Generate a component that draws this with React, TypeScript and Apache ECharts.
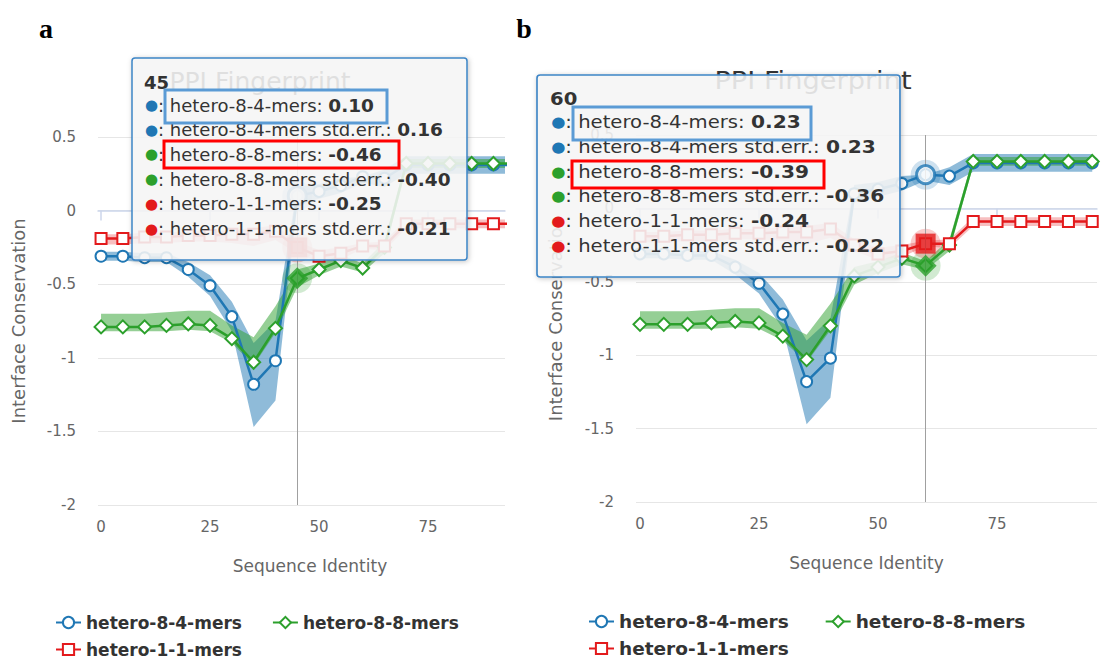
import React, { useEffect, useRef } from "react";
import * as echarts from "echarts";

// ---------- data ----------
const seqIdentity = [0, 5, 10, 15, 20, 25, 30, 35, 40, 45, 50, 55, 60, 65, 70, 75, 80, 85, 90, 95];
const seriesNames = ["hetero-8-4-mers", "hetero-8-8-mers", "hetero-1-1-mers"];

const mer84 = [-0.31, -0.31, -0.32, -0.32, -0.4, -0.51, -0.72, -1.18, -1.02, 0.1, 0.13, 0.17, 0.23, 0.22, 0.31, 0.31, 0.31, 0.31, 0.31, 0.31];
const mer84Low = [-0.34, -0.34, -0.35, -0.35, -0.45, -0.58, -0.82, -1.47, -1.29, 0.04, 0.08, 0.12, 0.19, 0.16, 0.25, 0.25, 0.25, 0.25, 0.25, 0.25];
const mer84High = [-0.28, -0.28, -0.29, -0.29, -0.35, -0.44, -0.62, -0.9, -0.75, 0.16, 0.18, 0.22, 0.23, 0.28, 0.37, 0.37, 0.37, 0.37, 0.37, 0.37];

const mer88 = [-0.79, -0.79, -0.79, -0.78, -0.77, -0.78, -0.87, -1.03, -0.8, -0.46, -0.4, -0.34, -0.39, -0.25, 0.32, 0.32, 0.32, 0.32, 0.32, 0.32];
const mer88Low = [-0.82, -0.82, -0.82, -0.82, -0.81, -0.82, -0.9, -1.05, -0.83, -0.52, -0.44, -0.38, -0.42, -0.29, 0.29, 0.29, 0.29, 0.29, 0.29, 0.29];
const mer88High = [-0.7, -0.7, -0.7, -0.69, -0.68, -0.68, -0.78, -0.86, -0.65, -0.4, -0.36, -0.3, -0.36, -0.21, 0.35, 0.35, 0.35, 0.35, 0.35, 0.35];

const mer11 = [-0.19, -0.19, -0.18, -0.18, -0.17, -0.17, -0.16, -0.16, -0.14, -0.25, -0.31, -0.29, -0.24, -0.24, -0.09, -0.09, -0.09, -0.09, -0.09, -0.09];
const mer11Low = [-0.23, -0.23, -0.22, -0.22, -0.21, -0.21, -0.22, -0.24, -0.2, -0.29, -0.35, -0.33, -0.26, -0.27, -0.12, -0.12, -0.12, -0.12, -0.12, -0.12];
const mer11High = [-0.16, -0.16, -0.15, -0.15, -0.14, -0.14, -0.13, -0.12, -0.1, -0.21, -0.27, -0.25, -0.22, -0.21, -0.06, -0.06, -0.06, -0.06, -0.06, -0.06];

const xTickValues = [0, 25, 50, 75];
const hoverIndexA = 9; // x = 45
const hoverIndexB = 12; // x = 60

// ---------- styling ----------
const FONT = "'DejaVu Sans', Verdana, sans-serif";
const colors = ["#1f77b4", "#2ca02c", "#e31a1c"];
const bandColors = ["rgba(31,119,180,0.5)", "rgba(44,160,44,0.5)", "rgba(227,26,28,0.28)"];
const symbols = ["circle", "diamond", "rect"];
const symbolSizes = [11, 13, 11];
const hoverSizes = [18, 22, 20];

const means = [mer84, mer88, mer11];
const lows = [mer84Low, mer88Low, mer11Low];
const highs = [mer84High, mer88High, mer11High];

const panels = [
  { left: 98, top: 137, width: 407, height: 368, xMin: -0.7, xMax: 92.65, hover: hoverIndexA, titleX: 260, titleScale: 1, yNameGap: 71, namePad: [0, 0, 0, 17], legendLeft: 55, legendTop1: 614, legendTop2: 641, legendFont: 17, legendGap: 30, tipX: 132, tipY: 58, tipW: 335, tipScale: 1 },
  { left: 636, top: 135, width: 461, height: 367, xMin: -0.84, xMax: 96, hover: hoverIndexB, titleX: 813, titleScale: 1.09, yNameGap: 72, namePad: [0, 0, 0, 0], legendLeft: 588, legendTop1: 612, legendTop2: 639, legendFont: 18.5, legendGap: 36, tipX: 537, tipY: 75, tipW: 333, tipScale: 1.09 },
];

function fmt(v: number) {
  return v.toFixed(2);
}

function bandRenderer(rows: number[][], color: string) {
  return function (params: any, api: any) {
    if (params.dataIndex !== 0) return null;
    const upper = rows.map((r) => api.coord([r[0], r[2]]));
    const lower = rows.map((r) => api.coord([r[0], r[1]])).reverse();
    return {
      type: "polygon",
      shape: { points: upper.concat(lower) },
      style: { fill: color, stroke: "none" },
    };
  };
}

function buildOption() {
  const series: any[] = [];
  panels.forEach((p, pi) => {
    means.forEach((m, si) => {
      const bandRows = seqIdentity.map((x, i) => [x, lows[si][i], highs[si][i]]);
      series.push({
        type: "custom",
        name: `${seriesNames[si]} std.err.`,
        xAxisIndex: pi,
        yAxisIndex: pi,
        data: bandRows,
        encode: { x: 0, y: [1, 2] },
        renderItem: bandRenderer(bandRows, bandColors[si]),
        clip: true,
        silent: true,
        z: 2,
      });
      series.push({
        type: "line",
        name: seriesNames[si],
        xAxisIndex: pi,
        yAxisIndex: pi,
        data: seqIdentity.map((x, i) => [x, m[i]]),
        symbol: symbols[si],
        symbolSize: symbolSizes[si],
        showAllSymbol: true,
        itemStyle: { color: "#ffffff", borderColor: colors[si], borderWidth: 2 },
        lineStyle: { color: colors[si], width: 2.5 },
        silent: true,
        z: 3,
        markLine:
          si === 0
            ? {
                silent: true,
                symbol: ["none", "none"],
                label: { show: false },
                lineStyle: { color: "#a0a0a0", width: 1, type: "solid" },
                data: [{ xAxis: seqIdentity[p.hover] }],
              }
            : undefined,
      });
    });
    means.forEach((m, si) => {
      const pt = [[seqIdentity[p.hover], m[p.hover]]];
      series.push({
        type: "scatter",
        name: `halo-${pi}-${si}`,
        xAxisIndex: pi,
        yAxisIndex: pi,
        data: pt,
        symbol: "circle",
        symbolSize: 30,
        itemStyle: { color: colors[si], opacity: 0.22 },
        silent: true,
        z: 4,
      });
      series.push({
        type: "scatter",
        name: `hover-${pi}-${si}`,
        xAxisIndex: pi,
        yAxisIndex: pi,
        data: pt,
        symbol: symbols[si],
        symbolSize: hoverSizes[si],
        itemStyle:
          si === 0
            ? { color: "#ffffff", borderColor: colors[si], borderWidth: 3 }
            : { color: colors[si] },
        silent: true,
        z: 5,
      });
    });
  });

  const graphic: any[] = [];
  graphic.push({ type: "text", x: 46, y: 28, z: 1, style: { text: "a", fontSize: 28, fontWeight: "bold", fontFamily: "'Liberation Serif', 'DejaVu Serif', serif", fill: "#000", align: "center", verticalAlign: "middle", textAlign: "center", textVerticalAlign: "middle" } });
  graphic.push({ type: "text", x: 524, y: 28, z: 1, style: { text: "b", fontSize: 28, fontWeight: "bold", fontFamily: "'Liberation Serif', 'DejaVu Serif', serif", fill: "#000", align: "center", verticalAlign: "middle", textAlign: "center", textVerticalAlign: "middle" } });

  panels.forEach((p, pi) => {
    graphic.push({
      type: "text",
      x: p.titleX,
      y: pi === 0 ? 81 : 80,
      scaleX: p.titleScale,
      z: 1,
      style: { text: "PPI Fingerprint", fontSize: 25, fontFamily: FONT, fill: "#333333", align: "center", verticalAlign: "middle", textAlign: "center", textVerticalAlign: "middle" },
    });

    const idx = p.hover;
    const rows: any[] = [];
    const rowLabels: [string, number, string][] = [];
    means.forEach((m, si) => {
      rowLabels.push([seriesNames[si], m[idx], colors[si]]);
      rowLabels.push([`${seriesNames[si]} std.err.`, highs[si][idx], colors[si]]);
    });
    rowLabels.forEach(([label, val, c], k) => {
      rows.push({
        type: "text",
        x: 13,
        y: 47 + k * 24.7,
        z: 101,
        style: {
          text: `{d|●}{c|:}{t| ${label}: }{v|${fmt(val)}}`,
          verticalAlign: "middle",
          textVerticalAlign: "middle",
          rich: {
            d: { fill: c, fontSize: 15, width: 13, fontFamily: FONT },
            c: { fill: "#333333", fontSize: 18, fontFamily: FONT },
            t: { fill: "#333333", fontSize: 18, fontFamily: FONT },
            v: { fill: "#333333", fontSize: 18.5, fontWeight: "bold", fontFamily: FONT },
          },
        },
      });
    });
    graphic.push({
      type: "group",
      x: p.tipX,
      y: p.tipY,
      scaleX: p.tipScale,
      z: 100,
      children: [
        {
          type: "rect",
          z: 100,
          shape: { x: 0, y: 0, width: p.tipW, height: 202, r: 3 },
          style: { fill: "rgba(248,248,248,0.86)", stroke: "#3d85c6", lineWidth: 1.5, shadowBlur: 5, shadowColor: "rgba(0,0,0,0.25)", shadowOffsetX: 1, shadowOffsetY: 1 },
        },
        {
          type: "text",
          x: 12,
          y: 24,
          z: 101,
          style: { text: String(seqIdentity[idx]), fontSize: 18, fontWeight: "bold", fontFamily: FONT, fill: "#333333", verticalAlign: "middle", textVerticalAlign: "middle" },
        },
        ...rows,
      ],
    });
  });

  const boxes = [
    { x: 165, y: 90, w: 222, h: 33, c: "#5b9bd5" },
    { x: 164, y: 141, w: 235, h: 27, c: "#ff0000" },
    { x: 573, y: 107, w: 238, h: 33, c: "#5b9bd5" },
    { x: 572, y: 161, w: 252, h: 27, c: "#ff0000" },
  ];
  boxes.forEach((b) =>
    graphic.push({ type: "rect", z: 110, shape: { x: b.x, y: b.y, width: b.w, height: b.h }, style: { fill: "none", stroke: b.c, lineWidth: 3 } })
  );

  const legends: any[] = [];
  panels.forEach((p) => {
    const base = {
      orient: "horizontal",
      itemWidth: 25,
      itemHeight: 14,
      selectedMode: false,
      padding: 0,
      textStyle: { fontSize: p.legendFont, fontWeight: "bold", color: "#333333", fontFamily: FONT },
    };
    legends.push({ ...base, left: p.legendLeft, top: p.legendTop1, itemGap: p.legendGap, data: [seriesNames[0], seriesNames[1]] });
    legends.push({ ...base, left: p.legendLeft, top: p.legendTop2, data: [seriesNames[2]] });
  });

  return {
    animation: false,
    backgroundColor: "#ffffff",
    grid: panels.map((p) => ({ left: p.left, top: p.top, width: p.width, height: p.height, containLabel: false, outerBoundsMode: "none" })),
    xAxis: panels.map((p, pi) => ({
      type: "value",
      gridIndex: pi,
      min: p.xMin,
      max: p.xMax,
      name: "Sequence Identity",
      nameLocation: "middle",
      nameGap: 52,
      nameTextStyle: { color: "#666666", fontSize: 17, fontFamily: FONT, padding: p.namePad },
      axisLine: { show: true, lineStyle: { color: "#ccd6eb", width: 1.5 } },
      axisTick: { show: true, customValues: xTickValues, length: 10, lineStyle: { color: "#ccd6eb", width: 1.5 } },
      axisLabel: { customValues: xTickValues, color: "#666666", fontSize: 15, margin: 14, fontFamily: FONT },
      splitLine: { show: false },
    })),
    yAxis: panels.map((p, pi) => ({
      type: "value",
      gridIndex: pi,
      min: -2,
      max: 0.5,
      interval: 0.5,
      name: "Interface Conservation",
      nameLocation: "middle",
      nameGap: p.yNameGap,
      nameTextStyle: { color: "#666666", fontSize: 18, fontFamily: FONT },
      axisLine: { show: false },
      axisTick: { show: false },
      axisLabel: { color: "#666666", fontSize: 15, margin: 22, fontFamily: FONT },
      splitLine: { show: true, lineStyle: { color: "#e6e6e6", width: 1 } },
    })),
    legend: legends,
    series,
    graphic,
  };
}

export default function App() {
  const ref = useRef<HTMLDivElement>(null);
  useEffect(() => {
    if (!ref.current) return;
    const chart = echarts.init(ref.current, null, { renderer: "svg" });
    chart.setOption(buildOption() as any);
    return () => chart.dispose();
  }, []);
  return (
    <div
      ref={ref}
      style={{ position: "absolute", left: 0, top: 0, width: 1101, height: 661, background: "#fff" }}
    />
  );
}
